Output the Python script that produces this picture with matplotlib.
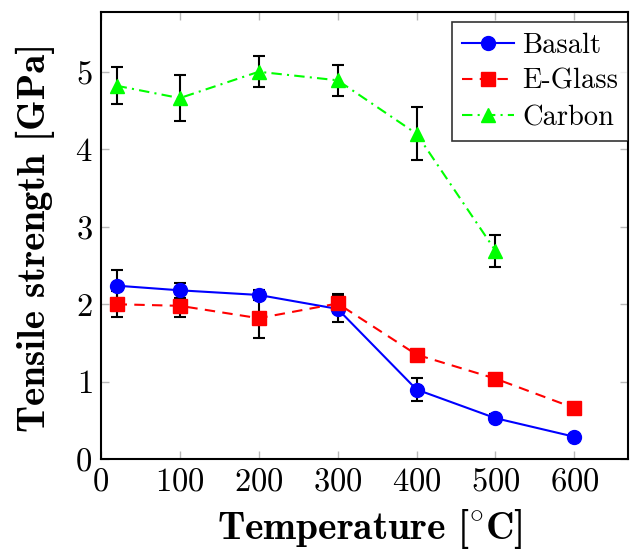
import matplotlib
matplotlib.use("Agg")
from matplotlib import pyplot as plt

# tensile strength of fibres vs temperature
temp = [20, 100, 200, 300, 400, 500, 600]
temp_carbon = [20, 100, 200, 300, 400, 500]

basalt = [2.24, 2.18, 2.12, 1.94, 0.90, 0.53, 0.29]
basalt_err = [0.20, 0.10, 0.07, 0.17, 0.15, 0.05, 0.03]

eglass = [2.00, 1.98, 1.82, 2.01, 1.35, 1.04, 0.66]
eglass_err = [0.17, 0.15, 0.25, 0.12, 0.06, 0.05, 0.02]

carbon = [4.82, 4.66, 5.00, 4.89, 4.20, 2.69]
carbon_err = [0.24, 0.30, 0.20, 0.20, 0.34, 0.21]

plt.rcParams['font.family'] = ['cmr10', 'DejaVu Serif']
plt.rcParams['mathtext.fontset'] = 'cm'
plt.rcParams['axes.formatter.use_mathtext'] = True

W, H = 630, 550
fig = plt.figure(figsize=(W / 100, H / 100), dpi=100)
ax = fig.add_axes([0.160, 0.165, 0.837, 0.813])

for xs, ys, es in [(temp, basalt, basalt_err), (temp, eglass, eglass_err),
                   (temp_carbon, carbon, carbon_err)]:
    ax.errorbar(xs, ys, yerr=es, fmt='none', ecolor='black',
                elinewidth=1.5, capsize=4.5, capthick=1.5, zorder=2)

ax.plot(temp, basalt, color='blue', linestyle='-', linewidth=1.5,
        marker='o', markersize=10, label='Basalt', zorder=3)
ax.plot(temp, eglass, color='red', linestyle=(0, (5, 3.5)), linewidth=1.5,
        marker='s', markersize=9.5, label='E-Glass', zorder=3)
ax.plot(temp_carbon, carbon, color='#00ff00', linestyle=(0, (5, 2.5, 1, 2.5)),
        linewidth=1.5, marker='^', markersize=10, label='Carbon', zorder=3)

ax.set_xlim(0, 668)
ax.set_ylim(0, 5.77)
ax.set_xticks([0, 100, 200, 300, 400, 500, 600])
ax.set_yticks([0, 1, 2, 3, 4, 5])
ax.tick_params(direction='in', length=6, width=1, color='#b8b8b8',
               labelsize=23.5, top=True, right=True, pad=6)
for s in ax.spines.values():
    s.set_linewidth(1.5)

# axis titles in bold CM, placed in pixels and sized to the reference
bold = ['cmb10', 'DejaVu Serif']
xlab = fig.text(370 / W, (H - 539) / H, r'Temperature [$\!^\circ\!$C]',
                family=bold, fontsize=26, ha='center', va='baseline')
ylab = fig.text(45 / W, (H - 237.5) / H, 'Tensile strength [GPa]',
                family=bold, fontsize=26, ha='center', va='baseline',
                rotation=90, rotation_mode='anchor')

fig.canvas.draw()
r = fig.canvas.get_renderer()
bx = xlab.get_window_extent(r)
xlab.set_fontsize(26 * 306 / bx.width)
by = ylab.get_window_extent(r)
ylab.set_fontsize(26 * 389 / by.height)

leg = ax.legend(loc='upper right', bbox_to_anchor=(1.0, 0.977), fontsize=20.5,
                frameon=True, fancybox=False, borderaxespad=0.0,
                handlelength=1.8, handletextpad=0.3, labelspacing=0.35,
                borderpad=0.35)
leg.get_frame().set_edgecolor('black')
leg.get_frame().set_linewidth(1.2)

fig.savefig('out.png', dpi=100)
